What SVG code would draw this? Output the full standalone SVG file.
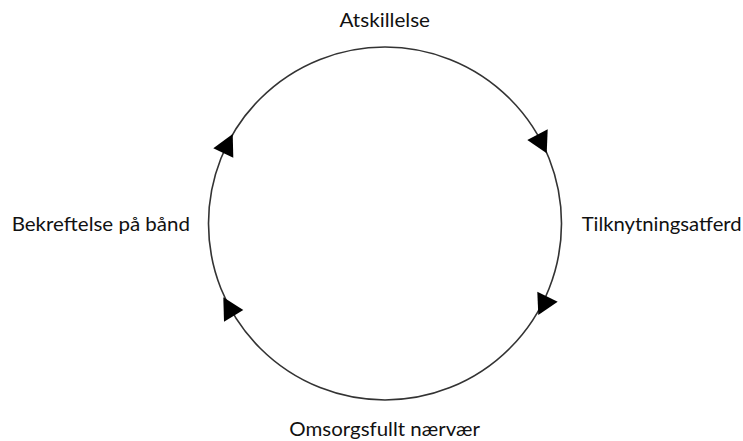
<svg xmlns="http://www.w3.org/2000/svg" width="743" height="441" viewBox="0 0 743 441">
<style>
.lbl{font-family:Lato,"Open Sans","Liberation Sans",sans-serif;font-size:20px;fill:#111}
.ring{fill:none;stroke:#333;stroke-width:1.6}
.head{fill:#000}
</style>
<rect width="743" height="441" fill="#fff"/>
<g id="connectors">
<circle class="ring" cx="385" cy="223.5" r="176.5"/>
<polygon class="head" points="546.7,153.3 547.7,129.3 527.3,140"/>
<polygon class="head" points="538.3,315 537.3,291.7 557.7,301.7"/>
<polygon class="head" points="223.3,297.3 243.3,310 224,321.7"/>
<polygon class="head" points="232.7,134 213.3,148.3 233.3,157.7"/>
</g>
<g id="atskillelse"><text class="lbl" x="339.5" y="26.7" textLength="90.5" lengthAdjust="spacingAndGlyphs">Atskillelse</text></g>
<g id="tilknytningsatferd"><text class="lbl" x="581.7" y="231" textLength="160" lengthAdjust="spacingAndGlyphs">Tilknytningsatferd</text></g>
<g id="omsorgsfullt"><text class="lbl" x="289.3" y="435.7" textLength="190.7" lengthAdjust="spacingAndGlyphs">Omsorgsfullt nærvær</text></g>
<g id="bekreftelse"><text class="lbl" x="11.7" y="230.7" textLength="178.3" lengthAdjust="spacingAndGlyphs">Bekreftelse på bånd</text></g>
</svg>
